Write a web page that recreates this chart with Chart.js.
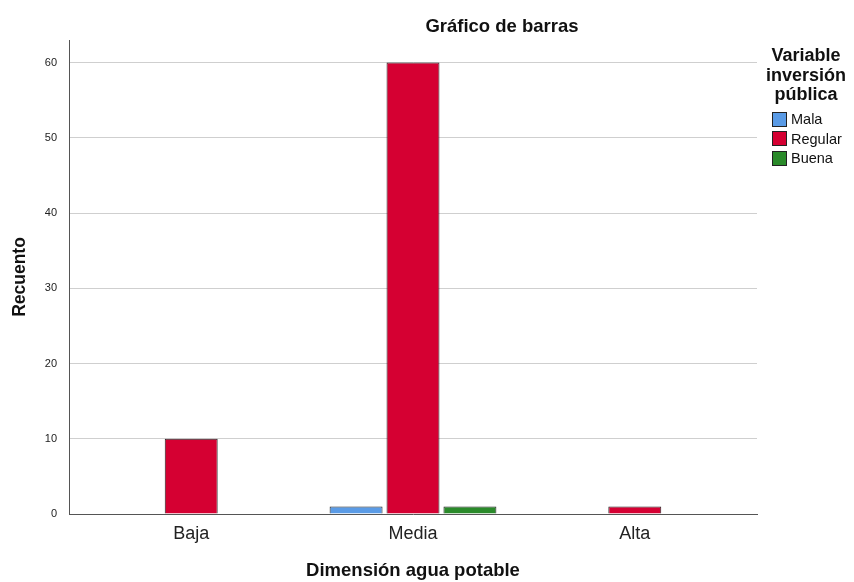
<!DOCTYPE html>
<html><head><meta charset="utf-8">
<script src="https://cdn.jsdelivr.net/npm/chart.js@4"></script>
<style>
html,body{margin:0;padding:0;background:#fff;}
#wrap{position:relative;width:854px;height:582px;font-family:"Liberation Sans",Arial,sans-serif;color:#111;}
canvas{position:absolute;left:0;top:0;}
#title{position:absolute;left:352px;width:300px;top:15px;text-align:center;font-weight:bold;font-size:18.5px;line-height:22px;}
#legend{position:absolute;left:758px;top:46px;width:96px;}
#legend .lt{font-weight:bold;font-size:18px;text-align:center;line-height:19.5px;}
#legend .it{display:flex;align-items:center;font-size:14.5px;height:19.5px;margin-left:14px;}
#legend .sw{width:15px;height:15px;border:1px solid #222;margin-right:4px;box-sizing:border-box;flex:none;}
#legend .items{margin-top:5px;}
</style></head>
<body><div id="wrap"><canvas id="c" width="854" height="582"></canvas>
<div id="title">Gráfico de barras</div>
<div id="legend"><div class="lt">Variable<br>inversión<br>pública</div><div class="items" id="items"></div></div>
</div>
<script>
const categories = ['Baja', 'Media', 'Alta'];
const seriesNames = ['Mala', 'Regular', 'Buena'];
const mala = [null, 1, null];
const regular = [10, 60, 1];
const buena = [null, 1, null];
const yTicks = [0, 10, 20, 30, 40, 50, 60];
const colors = ['#5a9be6', '#d50032', '#2a8a2a'];

const seriesValues = [mala, regular, buena];
const datasets = seriesNames.map((n, i) => ({
  label: n,
  data: seriesValues[i].map((v, j) => ({x: j, y: v})),
  backgroundColor: colors[i],
  borderColor: '#222',
  borderWidth: 1,
  borderSkipped: 'bottom',
  categoryPercentage: 0.77,
  barPercentage: 0.93
}));

const items = document.getElementById('items');
seriesNames.forEach((n, i) => {
  const d = document.createElement('div'); d.className = 'it';
  d.innerHTML = '<span class="sw" style="background:' + colors[i] + '"></span><span>' + n + '</span>';
  items.appendChild(d);
});

new Chart(document.getElementById('c'), {
  type: 'bar',
  data: {datasets},
  options: {
    responsive: false,
    animation: false,
    layout: {padding: {left: 0, right: 97, top: 40, bottom: 0}},
    plugins: {legend: {display: false}, title: {display: false}, tooltip: {enabled: false}},
    scales: {
      x: {
        type: 'linear',
        offset: false,
        min: -0.551, max: 2.551,
        afterBuildTicks: s => { s.ticks = categories.map((c, i) => ({value: i})); },
        afterFit: s => { s.height = 68; },
        grid: {display: false, drawTicks: false},
        border: {display: true, color: '#555', width: 1},
        ticks: {callback: v => categories[v], font: {family: 'Liberation Sans', size: 18}, color: '#222', padding: 9, maxRotation: 0, autoSkip: false},
        title: {display: true, text: 'Dimensión agua potable', font: {family: 'Liberation Sans', size: 18.5, weight: 'bold'}, color: '#111', padding: {top: 0, bottom: 0}}
      },
      y: {
        min: 0, max: 63,
        afterBuildTicks: s => { s.ticks = yTicks.map(v => ({value: v})); },
        afterFit: s => { s.width = 69; },
        grid: {color: c => c.tick && c.tick.value === 0 ? 'rgba(0,0,0,0)' : '#cfcfcf', lineWidth: 1, drawTicks: false},
        border: {display: true, color: '#555', width: 1},
        ticks: {font: {family: 'Liberation Sans', size: 11}, color: '#222', padding: 12},
        title: {display: true, text: 'Recuento', font: {family: 'Liberation Sans', size: 17.5, weight: 'bold'}, color: '#111', padding: {top: 10, bottom: 0}}
      }
    }
  }
});
</script></body></html>
